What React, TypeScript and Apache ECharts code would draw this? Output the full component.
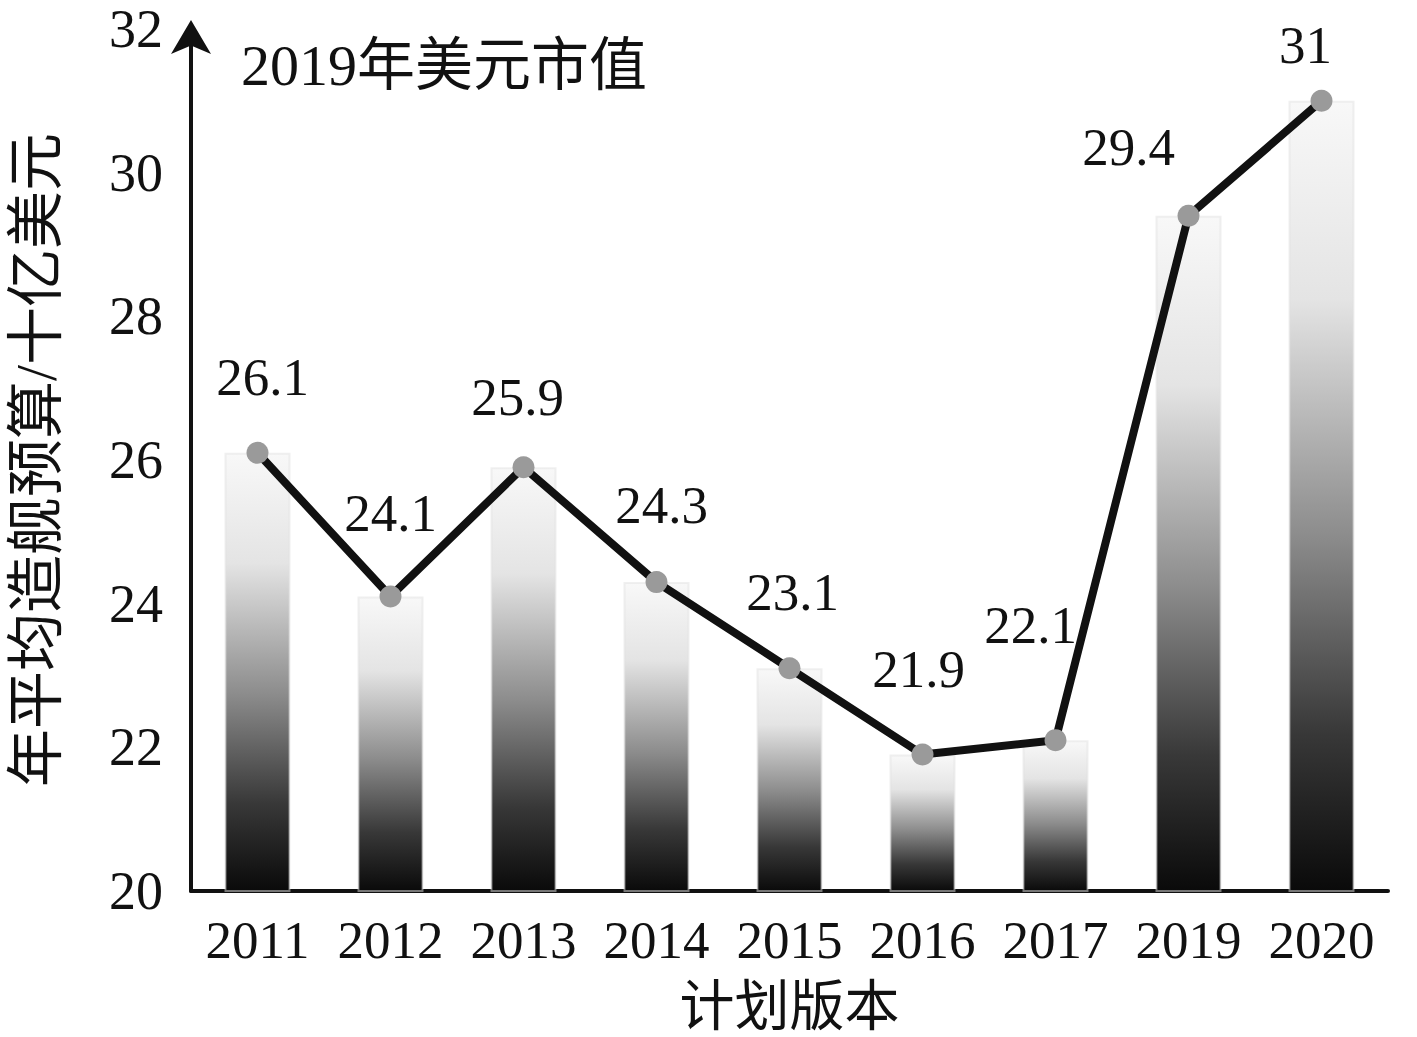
import React, { useEffect, useRef } from "react";
import * as echarts from "echarts";

const categories = ["2011", "2012", "2013", "2014", "2015", "2016", "2017", "2019", "2020"];
const budgetValues = [26.1, 24.1, 25.9, 24.3, 23.1, 21.9, 22.1, 29.4, 31];
const yTicks = { min: 20, max: 32, interval: 2 };
const labelOffsets: [number, number][] = [
  [5, -76], [0, -83], [-6, -70], [5, -77], [3, -76], [-4, -86], [-25, -115], [-60, -69], [-16, -56],
];

const SERIF = "'Liberation Serif', 'Times New Roman', 'Noto Sans CJK SC', serif";

export default function App() {
  const ref = useRef<HTMLDivElement>(null);
  useEffect(() => {
    const chart = echarts.init(ref.current!, null, { renderer: "svg" });
    const barGradient = new echarts.graphic.LinearGradient(0, 0, 0, 1, [
      { offset: 0, color: "#f8f8f8" },
      { offset: 0.25, color: "#e4e4e4" },
      { offset: 0.55, color: "#8c8c8c" },
      { offset: 0.8, color: "#383838" },
      { offset: 1, color: "#0a0a0a" },
    ]);
    chart.setOption({
      animation: false,
      backgroundColor: "#ffffff",
      title: {
        text: "2019年美元市值",
        left: 236,
        top: 31,
        textStyle: { fontFamily: SERIF, fontSize: 58, fontWeight: "normal", color: "#111" },
      },
      grid: {
        left: 191,
        right: 29,
        top: 29,
        bottom: 146,
        containLabel: false,
        outerBoundsMode: "none",
      },
      xAxis: {
        type: "category",
        data: categories,
        name: "计划版本",
        nameLocation: "middle",
        nameGap: 86,
        nameTextStyle: { fontFamily: SERIF, fontSize: 55, color: "#111", lineHeight: 58 },
        axisLine: { show: true, lineStyle: { color: "#111", width: 4 } },
        axisTick: { show: false },
        axisLabel: { interval: 0, fontFamily: SERIF, fontSize: 53, color: "#111", margin: 22 },
        splitLine: { show: false },
      },
      yAxis: {
        type: "value",
        min: yTicks.min,
        max: yTicks.max,
        interval: yTicks.interval,
        name: "年平均造舰预算/十亿美元",
        nameLocation: "middle",
        nameRotate: 90,
        nameGap: 126,
        nameTextStyle: { fontFamily: SERIF, fontSize: 58, color: "#111" },
        axisLine: {
          show: true,
          symbol: ["none", "arrow"],
          symbolSize: [30, 34],
          symbolOffset: [0, 9],
          lineStyle: { color: "#111", width: 4 },
        },
        axisTick: { show: false },
        axisLabel: { fontFamily: SERIF, fontSize: 54, color: "#111", margin: 28 },
        splitLine: { show: false },
      },
      series: [
        {
          type: "bar",
          data: budgetValues,
          barWidth: 66,
          itemStyle: { color: barGradient, borderColor: "rgba(225,225,225,0.5)", borderWidth: 2 },
          z: 1,
        },
        {
          type: "line",
          data: budgetValues.map((v, i) => ({ value: v, label: { offset: labelOffsets[i] } })),
          symbol: "circle",
          symbolSize: 22,
          itemStyle: { color: "#9a9a9a" },
          lineStyle: { color: "#111", width: 8 },
          z: 3,
          label: {
            show: true,
            position: "inside",
            fontFamily: SERIF,
            fontSize: 53,
            color: "#111",
          },
        },
      ],
    });
    return () => chart.dispose();
  }, []);
  return (
    <div
      ref={ref}
      style={{ position: "absolute", left: 0, top: 0, width: 1417, height: 1037, background: "#fff" }}
    />
  );
}
